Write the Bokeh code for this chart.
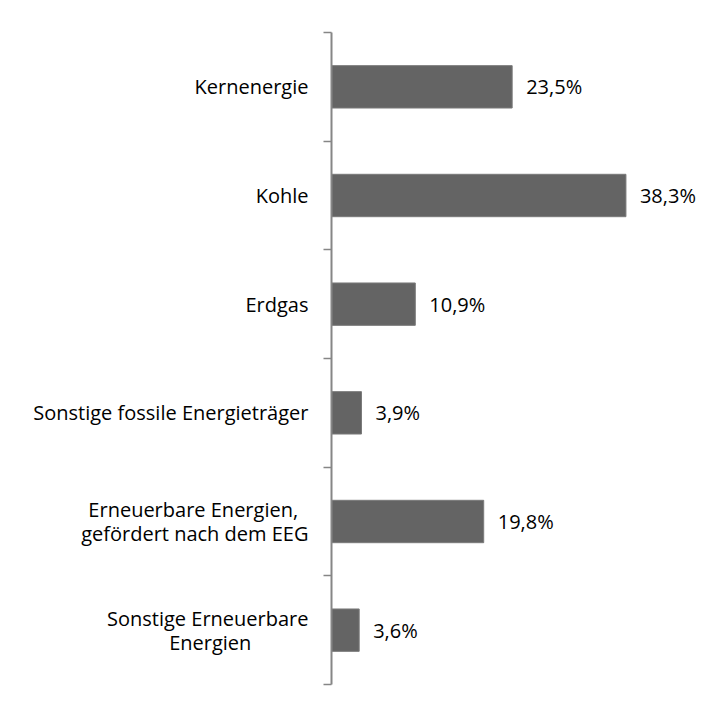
from bokeh.plotting import figure
from bokeh.models import Range1d, FixedTicker, ColumnDataSource, Label
from bokeh.core.properties import value
from bokeh.embed import file_html
from bokeh.resources import INLINE

NB = "\u00a0"
categories = [
    "Kernenergie",
    "Kohle",
    "Erdgas",
    "Sonstige fossile Energieträger",
    "Erneuerbare Energien," + NB * 2 + "\ngefördert nach dem EEG",
    "Sonstige Erneuerbare\nEnergien" + NB * 11,
]
shares = [23.5, 38.3, 10.9, 3.9, 19.8, 3.6]
value_labels = ["23,5%", "38,3%", "10,9%", "3,9%", "19,8%", "3,6%"]

n = len(categories)
centers = [n - i - 0.5 for i in range(n)]
boundaries = [float(i) for i in range(n + 1)]

FONT = "Open Sans"
W, H = 720, 696
FL, FR, FT, FB = 331, 20, 32, 12      # borders around the plot frame
X_MAX = 48

p = figure(
    width=W, height=H,
    x_range=Range1d(0, X_MAX), y_range=Range1d(0, n),
    x_axis_location=None,
    output_backend="svg", toolbar_location=None,
    min_border_left=FL, min_border_right=FR,
    min_border_top=FT, min_border_bottom=FB,
)
p.outline_line_color = None
p.xgrid.visible = False
p.ygrid.visible = False
p.background_fill_color = "white"
p.border_fill_color = "white"

# chart-area border: a padded, empty label box whose top-left corner sits at
# canvas (9, 6); its right and bottom edges fall outside the window.
PAD = 1000
fw, fh = W - FL - FR, H - FT - FB
bx = (9 + PAD - FL) * X_MAX / fw
by = n - (6 + PAD - FT) * n / fh
p.add_layout(Label(
    x=bx, y=by, text=" ", anchor="top_left", padding=PAD,
    text_font_size="1px", border_line_color="#8a8a8a", border_line_width=2,
    background_fill_color=None,
))

src = ColumnDataSource(dict(y=centers, v=shares, lab=value_labels))
p.hbar(y="y", left=0, right="v", height=0.39, source=src,
       fill_color="#646464", line_color="#7a7a7a", line_width=1)
p.text(x="v", y="y", text="lab", source=src, x_offset=14,
       text_baseline="middle", text_align="left",
       text_font=value(FONT), text_font_size="20px", text_color="#000000")

ax = p.yaxis[0]
ax.ticker = FixedTicker(ticks=centers, minor_ticks=boundaries)
ax.major_label_overrides = {c: lab for c, lab in zip(centers, categories)}
ax.major_tick_out = 0
ax.major_tick_in = 0
ax.minor_tick_out = 8
ax.minor_tick_in = 0
ax.minor_tick_line_color = "#868686"
ax.minor_tick_line_width = 1.5
ax.axis_line_color = "#868686"
ax.axis_line_width = 2
ax.major_label_standoff = 15
ax.major_label_text_font = FONT
ax.major_label_text_font_size = "20px"
ax.major_label_text_color = "#000000"
ax.major_label_text_line_height = 0.88

open("out.html", "w").write(file_html(p, INLINE))
